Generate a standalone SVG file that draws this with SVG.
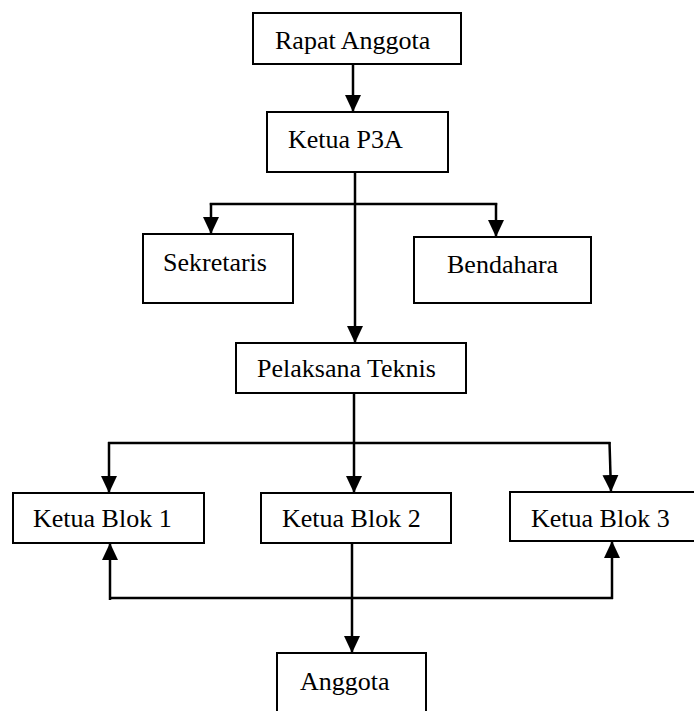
<svg xmlns="http://www.w3.org/2000/svg" width="694" height="711" viewBox="0 0 694 711">
<style>
.box{fill:#fff;stroke:#000;stroke-width:2}
.lbl{font-size:26px;fill:#000}
.con{fill:none;stroke:#000;stroke-width:2.5}
</style>
<defs>
<marker id="ah" markerUnits="userSpaceOnUse" markerWidth="18" markerHeight="18" refX="17" refY="8" orient="auto">
<path d="M0,0 L17,8 L0,16 z" fill="#000"/>
</marker>
</defs>
<rect width="694" height="711" fill="#fff"/>
<g id="connectors">
<line class="con" x1="353" y1="64" x2="353" y2="112" marker-end="url(#ah)"/>
<line class="con" x1="355" y1="172" x2="355" y2="343" marker-end="url(#ah)"/>
<line class="con" x1="209.8" y1="204" x2="497.2" y2="204"/>
<line class="con" x1="211" y1="203" x2="211" y2="234" marker-end="url(#ah)"/>
<line class="con" x1="496" y1="203" x2="496" y2="237" marker-end="url(#ah)"/>
<line class="con" x1="354" y1="393" x2="354" y2="493" marker-end="url(#ah)"/>
<line class="con" x1="108" y1="443" x2="610.5" y2="443"/>
<line class="con" x1="109" y1="442" x2="109" y2="493" marker-end="url(#ah)"/>
<line class="con" x1="609.5" y1="442" x2="611" y2="492" marker-end="url(#ah)"/>
<line class="con" x1="352" y1="543" x2="352" y2="653" marker-end="url(#ah)"/>
<line class="con" x1="110" y1="598" x2="613" y2="598"/>
<line class="con" x1="110" y1="600" x2="110" y2="543" marker-end="url(#ah)"/>
<line class="con" x1="612" y1="599" x2="612" y2="541" marker-end="url(#ah)"/>
</g>
<g id="rapat-anggota">
<rect class="box" x="253" y="13" width="208" height="51"/>
<text class="lbl" font-family="'Liberation Serif', 'Times New Roman', serif" x="275" y="49">Rapat Anggota</text>
</g>
<g id="ketua-p3a">
<rect class="box" x="267" y="112" width="181" height="60"/>
<text class="lbl" font-family="'Liberation Serif', 'Times New Roman', serif" x="288" y="148">Ketua P3A</text>
</g>
<g id="sekretaris">
<rect class="box" x="143" y="234" width="150" height="69"/>
<text class="lbl" font-family="'Liberation Serif', 'Times New Roman', serif" x="163" y="271">Sekretaris</text>
</g>
<g id="bendahara">
<rect class="box" x="414" y="237" width="177" height="66"/>
<text class="lbl" font-family="'Liberation Serif', 'Times New Roman', serif" x="447" y="273">Bendahara</text>
</g>
<g id="pelaksana-teknis">
<rect class="box" x="236" y="343" width="230" height="50"/>
<text class="lbl" font-family="'Liberation Serif', 'Times New Roman', serif" x="257" y="377">Pelaksana Teknis</text>
</g>
<g id="ketua-blok-1">
<rect class="box" x="13" y="493" width="191" height="50"/>
<text class="lbl" font-family="'Liberation Serif', 'Times New Roman', serif" x="33" y="527">Ketua Blok 1</text>
</g>
<g id="ketua-blok-2">
<rect class="box" x="261" y="493" width="190" height="50"/>
<text class="lbl" font-family="'Liberation Serif', 'Times New Roman', serif" x="282" y="527">Ketua Blok 2</text>
</g>
<g id="ketua-blok-3">
<rect class="box" x="510" y="492" width="200" height="49"/>
<text class="lbl" font-family="'Liberation Serif', 'Times New Roman', serif" x="531" y="527">Ketua Blok 3</text>
</g>
<g id="anggota">
<rect class="box" x="277" y="653" width="149" height="70"/>
<text class="lbl" font-family="'Liberation Serif', 'Times New Roman', serif" x="300" y="690">Anggota</text>
</g>
</svg>
